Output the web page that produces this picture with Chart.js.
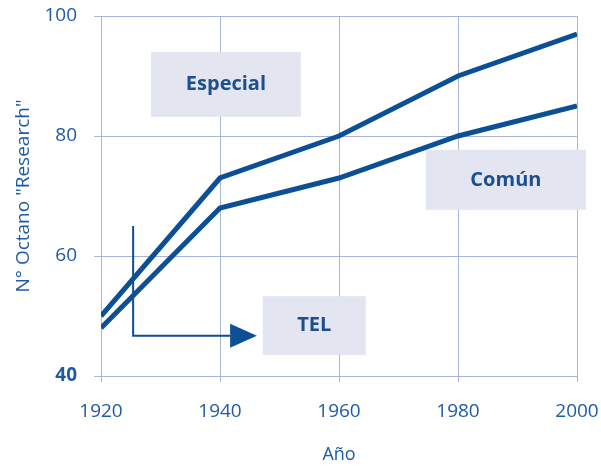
<!DOCTYPE html>
<html>
<head>
<meta charset="utf-8">
<script src="https://cdn.jsdelivr.net/npm/chart.js@4"></script>
<style>
  html, body { margin: 0; padding: 0; background: #fff; }
</style>
</head>
<body>
<canvas id="octane_chart" width="601" height="470"></canvas>
<script>
const years = [1920, 1940, 1960, 1980, 2000];
const especial = [50, 73, 80, 90, 97];
const comun = [48, 68, 73, 80, 85];
const yTicks = [40, 60, 80, 100];

const lineColor = '#0c4f97';
const textColor = '#1f5ba3';
const gridColor = '#a7b5d8';
const boxColor = '#e3e5f1';
const fontFamily = '"Open Sans", "Noto Sans", sans-serif';

// boxes and arrow are placed in axis units so they follow the scales
const labels = [
  { text: 'Especial', x0: 1928.4, x1: 1953.6, y0: 83.2, y1: 94 },
  { text: 'Común', x0: 1974.6, x1: 2001.5, y0: 67.7, y1: 77.7 },
  { text: 'TEL', x0: 1947.2, x1: 1964.5, y0: 43.5, y1: 53.3 }
];

const notesPlugin = {
  id: 'notes',
  beforeDatasetsDraw(chart) {
    const { ctx, scales: { x, y } } = chart;
    ctx.save();
    labels.forEach(l => {
      const left = x.getPixelForValue(l.x0);
      const right = x.getPixelForValue(l.x1);
      const top = y.getPixelForValue(l.y1);
      const bottom = y.getPixelForValue(l.y0);
      ctx.fillStyle = boxColor;
      ctx.fillRect(left, top, right - left, bottom - top);
      ctx.fillStyle = '#1d4f8e';
      ctx.font = `bold 20px ${fontFamily}`;
      ctx.textAlign = 'center';
      ctx.textBaseline = 'middle';
      ctx.fillText(l.text, (left + right) / 2, (top + bottom) / 2);
    });

    // TEL arrow
    const ax = x.getPixelForValue(1925.4);
    const ayTop = y.getPixelForValue(65);
    const ay = y.getPixelForValue(46.7);
    const headStart = x.getPixelForValue(1941.7);
    const tip = x.getPixelForValue(1946.2);
    ctx.strokeStyle = lineColor;
    ctx.lineWidth = 2;
    ctx.beginPath();
    ctx.moveTo(ax, ayTop);
    ctx.lineTo(ax, ay);
    ctx.lineTo(headStart, ay);
    ctx.stroke();
    ctx.fillStyle = lineColor;
    ctx.beginPath();
    ctx.moveTo(headStart, ay - 12);
    ctx.lineTo(tip, ay);
    ctx.lineTo(headStart, ay + 12);
    ctx.closePath();
    ctx.fill();
    ctx.restore();
  }
};

new Chart(document.getElementById('octane_chart'), {
  type: 'line',
  data: {
    datasets: [
      {
        label: 'Especial',
        data: years.map((yr, i) => ({ x: yr, y: especial[i] }))
      },
      {
        label: 'Común',
        data: years.map((yr, i) => ({ x: yr, y: comun[i] }))
      }
    ]
  },
  options: {
    responsive: false,
    animation: false,
    layout: {
      padding: { left: 0, top: 16, right: 24, bottom: 0 }
    },
    elements: {
      line: { borderColor: lineColor, borderWidth: 5, tension: 0 },
      point: { radius: 0 }
    },
    plugins: {
      legend: { display: false },
      tooltip: { enabled: false }
    },
    scales: {
      x: {
        type: 'linear',
        min: 1920,
        max: 2000,
        afterFit: (scale) => {
          scale.height = 94;
          scale.paddingLeft = 0;
          scale.paddingRight = 0;
        },
        afterBuildTicks: (scale) => { scale.ticks = years.map(v => ({ value: v })); },
        grid: { color: gridColor, tickLength: 6 },
        border: { color: gridColor },
        ticks: {
          color: textColor,
          padding: 18,
          font: { family: fontFamily, size: 19 },
          callback: (v) => String(v)
        },
        title: {
          display: true,
          text: 'Año',
          color: textColor,
          font: { family: fontFamily, size: 18 },
          padding: { top: 12 }
        }
      },
      y: {
        min: 40,
        max: 100,
        afterFit: (scale) => {
          scale.width = 101;
          scale.paddingTop = 0;
          scale.paddingBottom = 0;
        },
        afterBuildTicks: (scale) => { scale.ticks = yTicks.map(v => ({ value: v })); },
        grid: { color: gridColor, tickLength: 7 },
        border: { color: gridColor },
        ticks: {
          color: textColor,
          padding: 17,
          font: (c) => ({
            family: fontFamily,
            size: 19,
            weight: c.tick && c.tick.value === 40 ? 'bold' : 'normal'
          })
        },
        title: {
          display: true,
          text: 'N° Octano "Research"',
          color: textColor,
          font: { family: fontFamily, size: 19 },
          padding: { top: 12, bottom: 0 }
        }
      }
    }
  },
  plugins: [notesPlugin]
});
</script>
</body>
</html>
